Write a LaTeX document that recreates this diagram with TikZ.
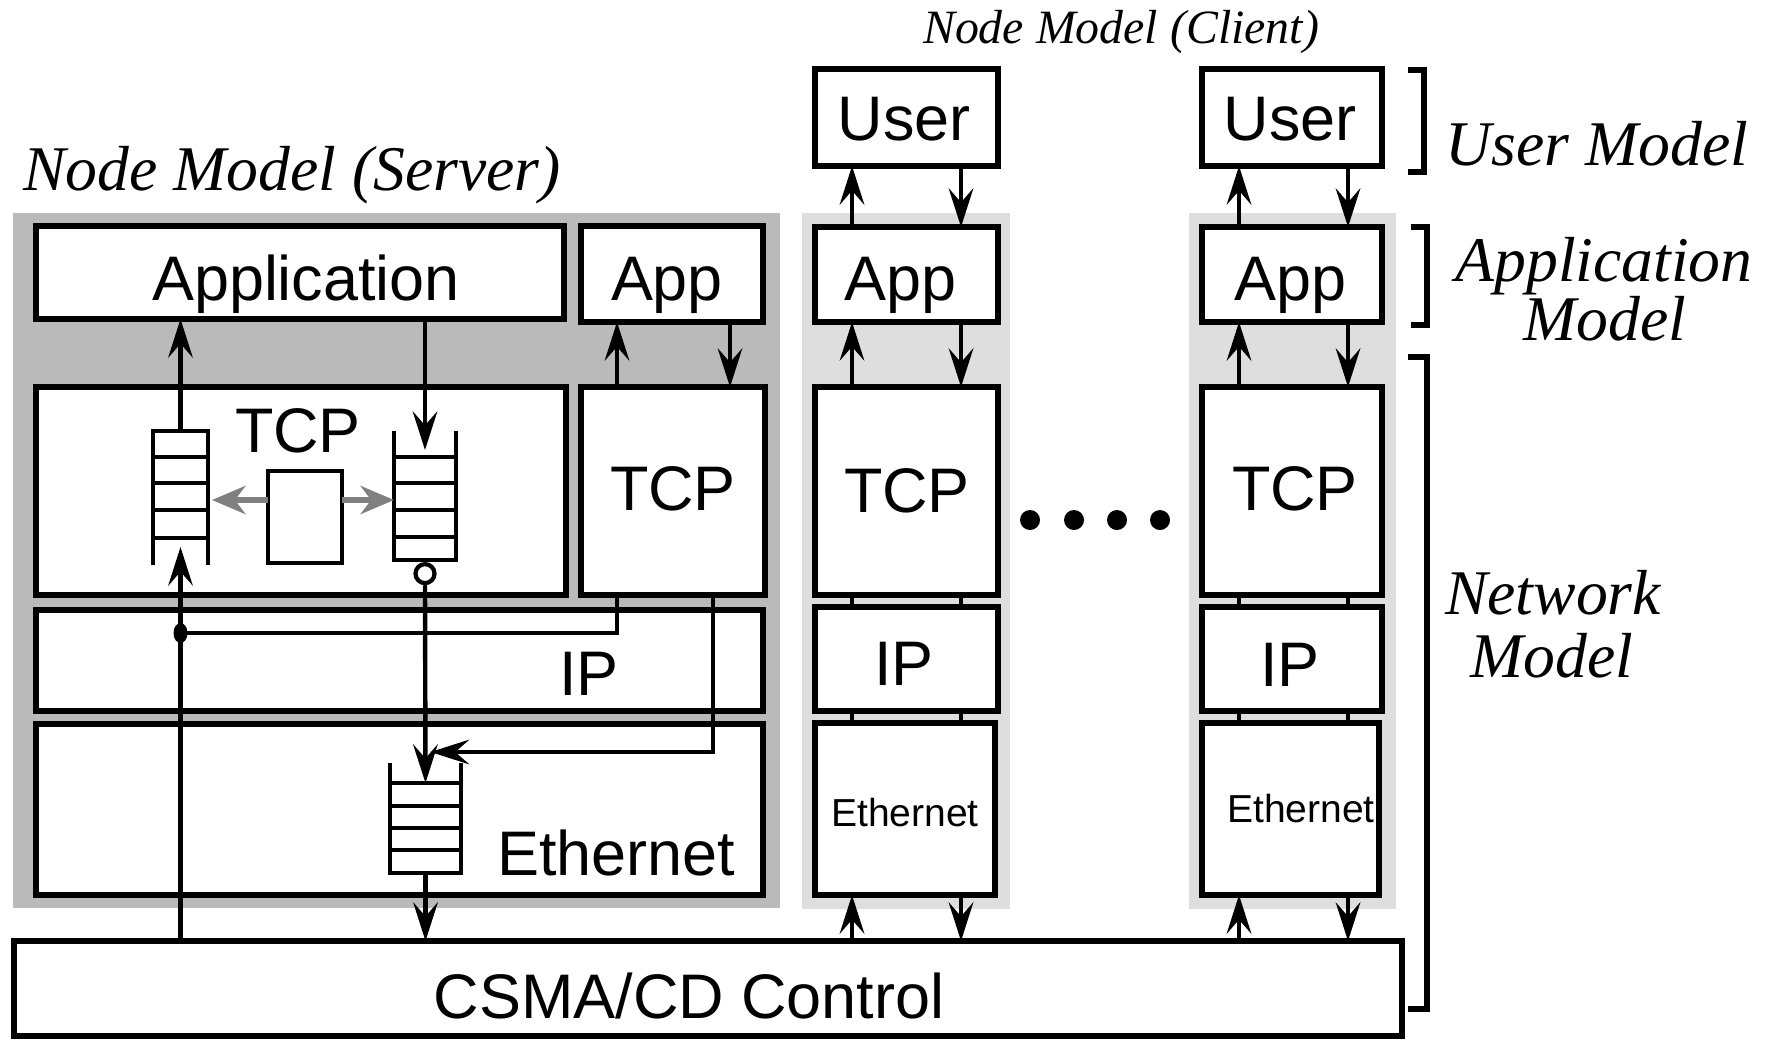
\documentclass[tikz,border=0pt]{standalone}
\usepackage{fontspec}
\setmainfont{Liberation Serif}
\setsansfont{Liberation Sans}
\usetikzlibrary{arrows.meta,fit,calc}
\definecolor{srvgray}{gray}{0.73}
\definecolor{cligray}{gray}{0.87}
\definecolor{arrgray}{gray}{0.5}
\tikzset{
  box/.style={draw, line width=1.56pt, fill=white, inner sep=0pt, outer sep=0pt},
  area/.style={inner sep=0pt, outer sep=0pt},
  arr/.style={line width=1.25pt, -{Stealth[length=11pt, width=7pt, inset=4pt]}},
  garr/.style={draw=arrgray, line width=1.5pt, -{Stealth[length=9.5pt, width=8pt, inset=3pt, fill=arrgray]}},
  ln/.style={line width=1.25pt},
  qline/.style={line width=1.25pt},
  brk/.style={line width=1.5pt},
  big/.style={font=\sffamily\fontsize{17.9}{20}\selectfont, anchor=base, inner sep=0pt},
  small/.style={font=\sffamily\fontsize{11.1}{13}\selectfont, anchor=base, inner sep=0pt},
  ital/.style={font=\rmfamily\itshape\fontsize{18.1}{21}\selectfont, anchor=base, inner sep=0pt},
  itals/.style={font=\rmfamily\itshape\fontsize{13.6}{16}\selectfont, anchor=base, inner sep=0pt},
}
\begin{document}
\begin{tikzpicture}[x=0.01cm, y=-0.01cm]
\fill[white] (0,0) rectangle (1774,1039);
\useasboundingbox (0,0) rectangle (1774,1039);

% backgrounds
\node[area, fill=srvgray, fit={(13,213)(780,908)}] (srvbg) {};
\node[area, fill=cligray, fit={(802,213)(1010,909)}] (bga) {};
\node[area, fill=cligray, fit={(1189,213)(1396,909)}] (bgb) {};

% server boxes
\node[box, fit={(36,226)(564,319)}] (app) {};
\node[box, fit={(581,226)(763,322)}] (sapp) {};
\node[box, fit={(36,387)(566,595)}] (tcpl) {};
\node[box, fit={(581,387)(765,595)}] (tcpr) {};
\node[box, fit={(36,610)(763,711)}] (sip) {};
\node[box, fit={(36,724)(763,895)}] (seth) {};
\node[box, fit={(14,941)(1402,1036)}] (csma) {};

% client boxes
\foreach \L/\R/\n in {815/998/a, 1202/1382/b}{
  \node[box, fit={(\L,69)(\R,166)}] (user\n) {};
  \node[box, fit={(\L,227)(\R,322)}] (capp\n) {};
  \node[box, fit={(\L,387)(\R,595)}] (ctcp\n) {};
  \node[box, fit={(\L,607)(\R,711)}] (cip\n) {};
  \node[box, fit={(\L,723)(\R-3,895)}] (ceth\n) {};
  \coordinate (up\n) at ($(ceth\n.south west)+(37,0)$);
  \coordinate (dn\n) at ($(ceth\n.south west)+(146,0)$);
  % arrows and connectors
  \draw[arr] (up\n |- capp\n.north) -- (up\n |- user\n.south);
  \draw[arr] (dn\n |- user\n.south) -- (dn\n |- capp\n.north);
  \draw[arr] (up\n |- ctcp\n.north) -- (up\n |- capp\n.south);
  \draw[arr] (dn\n |- capp\n.south) -- (dn\n |- ctcp\n.north);
  \draw[ln] (up\n |- ctcp\n.south) -- (up\n |- cip\n.north);
  \draw[ln] (dn\n |- ctcp\n.south) -- (dn\n |- cip\n.north);
  \draw[ln] (up\n |- cip\n.south) -- (up\n |- ceth\n.north);
  \draw[ln] (dn\n |- cip\n.south) -- (dn\n |- ceth\n.north);
  \draw[arr] (up\n |- csma.north) -- (up\n);
  \draw[arr] (dn\n) -- (dn\n |- csma.north);
}

% queues
\node[area, fit={(153,431)(208,565)}] (lq) {};
\draw[qline] (lq.south west) -- (lq.north west) -- (lq.north east) -- (lq.south east);
\foreach \y in {457,483,510,538} \draw[qline] (153,\y) -- (208,\y);

\node[area, fit={(394,431)(456,560)}] (rq) {};
\draw[qline] (rq.north west) -- (rq.south west) -- (rq.south east) -- (rq.north east);
\foreach \y in {457,483,510,537} \draw[qline] (394,\y) -- (456,\y);

\node[area, fit={(390,763)(461,873)}] (eq) {};
\draw[qline] (eq.north west) -- (eq.south west) -- (eq.south east) -- (eq.north east);
\foreach \y in {783,806,828,850} \draw[qline] (390,\y) -- (461,\y);

% small rectangle inside TCP
\node[box, line width=1.3pt, fit={(268,471)(342,563)}] (proc) {};
\draw[garr] ($(proc.west)+(0,-17)$) -- ($(lq.east |- proc.west)+(4,-17)$);
\draw[garr] ($(proc.east)+(0,-17)$) -- ($(rq.west |- proc.east)+(0,-17)$);

% circle under right queue
\node[circle, draw, fill=white, line width=1.2pt, minimum size=0.19cm, inner sep=0pt, anchor=north] (circ) at ($(rq.south)+(0,2)$) {};

% junction dot and bends
\coordinate (dot) at (lq.south |- 0,633);
\coordinate (bend1) at (617,633);
\coordinate (bend2) at (713,752);
\coordinate (sx2) at ($(sapp.south west)+(149,0)$);

% server connectors
\draw[arr] (lq.north) -- (lq.north |- app.south);
\draw[arr] (app.south -| rq.north) -- ($(rq.north)+(0,19)$);
\draw[arr] (csma.north -| lq.south) -- ($(lq.south)+(0,-18)$);
\draw[arr] (circ.south) -- ($(eq.north)+(0,20)$);
\draw[arr] (eq.south) -- (eq.south |- csma.north);
\draw[ln] (tcpr.south -| bend1) -- (bend1) -- (dot);
\fill (dot) ellipse [x radius=7, y radius=10];
\draw[arr] (tcpr.south -| bend2) -- (bend2) -- ($(bend2 -| eq.north)+(5,0)$);
\draw[arr] (tcpr.north -| bend1) -- (bend1 |- sapp.south);
\draw[arr] (sx2) -- (sx2 |- tcpr.north);

% dots
\foreach \x/\k in {1030/1,1074/2,1117/3,1160/4} \fill (\x,520) circle [radius=10];

% brackets
\draw[brk] (1408,70) -- (1424,70) -- (1424,172) -- (1408,172);
\draw[brk] (1411,227) -- (1427,227) -- (1427,325) -- (1411,325);
\draw[brk] (1408,357) -- (1427,357) -- (1427,1009) -- (1408,1009);

% sans labels
\node[big] (tapp) at (306,300) {Application};
\node[big] (tsapp) at (667,300) {App};
\node[big] (ttcpl) at (298,452) {TCP};
\node[big] (ttcpr) at (673,510) {TCP};
\node[big] (tsip) at (589,695) {IP};
\node[big] (tseth) at (616,875) {Ethernet};
\node[big] (tcsma) at (689,1018) {CSMA/CD Control};
\node[big] (tusera) at (904,140) {User};
\node[big] (tuserb) at (1290,140) {User};
\node[big] (tappa) at (900,300) {App};
\node[big] (tappb) at (1290,300) {App};
\node[big] (ttcpa) at (907,512) {TCP};
\node[big] (ttcpb) at (1295,510) {TCP};
\node[big] (tipa) at (904,685) {IP};
\node[big] (tipb) at (1290,686) {IP};
\node[small] (tetha) at (905,826) {Ethernet};
\node[small] (tethb) at (1301,822) {Ethernet};

% italic labels
\node[ital] (lserver) at (292,190) {Node Model (Server)};
\node[itals] (lclient) at (1121,43) {Node Model (Client)};
\node[ital] (luser) at (1597,165) {User Model};
\node[ital] (lappl1) at (1604,281) {Application};
\node[ital] (lappl2) at (1605,340) {Model};
\node[ital] (lnet1) at (1553,614) {Network};
\node[ital] (lnet2) at (1552,677) {Model};
\end{tikzpicture}
\end{document}
